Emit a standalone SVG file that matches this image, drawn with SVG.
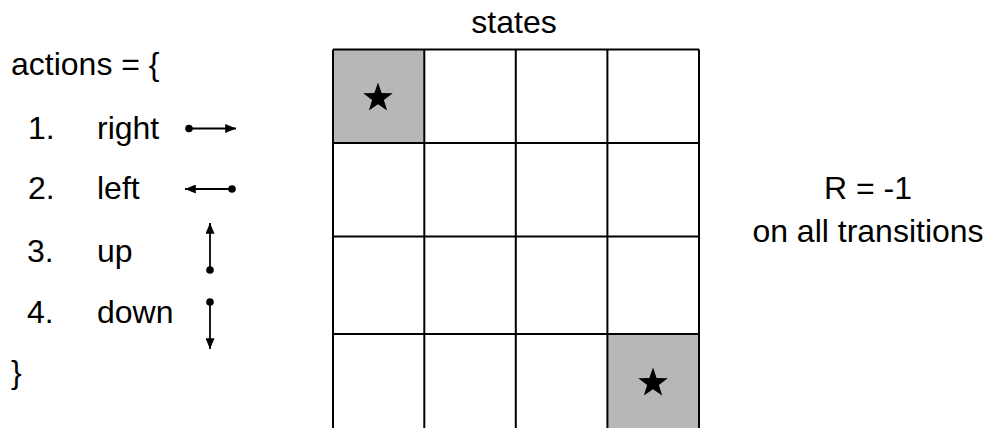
<svg xmlns="http://www.w3.org/2000/svg" width="997" height="428" viewBox="0 0 997 428">
<style>
text{font-family:"Liberation Sans",Arial,sans-serif;font-size:32px;fill:#000}
.grid{stroke:#000;stroke-width:2;fill:none}
.cell{fill:#b7b7b7}
.arr{stroke:#000;stroke-width:1.8;fill:none}
.dot{fill:#000}
.star{fill:#000}
</style>
<defs>
<marker id="ah" viewBox="0 0 12 10" refX="12" refY="5" markerWidth="12" markerHeight="9" markerUnits="userSpaceOnUse" orient="auto">
<path d="M0,0 L12,5 L0,10 Z" fill="#000"/>
</marker>
</defs>
<rect width="997" height="428" fill="#fff"/>
<g id="title"><text x="514" y="33" text-anchor="middle">states</text></g>
<g id="actions">
<text x="11" y="75">actions = {</text>
<text x="28" y="139">1.</text><text x="97" y="139">right</text>
<text x="28" y="199">2.</text><text x="97" y="199">left</text>
<text x="27" y="262">3.</text><text x="97" y="262">up</text>
<text x="27" y="323">4.</text><text x="97" y="323">down</text>
<text x="11" y="383">}</text>
</g>
<g id="connectors">
<line class="arr" x1="189" y1="128.5" x2="236" y2="128.5" marker-end="url(#ah)"/>
<circle class="dot" cx="189" cy="128.5" r="3.8"/>
<line class="arr" x1="232" y1="189" x2="185" y2="189" marker-end="url(#ah)"/>
<circle class="dot" cx="232" cy="189" r="3.8"/>
<line class="arr" x1="210" y1="270" x2="210" y2="223" marker-end="url(#ah)"/>
<circle class="dot" cx="210" cy="270" r="3.8"/>
<line class="arr" x1="210" y1="302" x2="210" y2="349" marker-end="url(#ah)"/>
<circle class="dot" cx="210" cy="302" r="3.8"/>
</g>
<g id="grid">
<rect class="cell" x="333" y="49.5" width="91" height="93.5"/>
<rect class="cell" x="607.5" y="334" width="91.5" height="100"/>
<path class="grid" d="M333,49.5 H699 M333,143 H699 M333,236.5 H699 M333,334 H699 M333,49.5 V430 M424.3,49.5 V430 M515.8,49.5 V430 M607.4,49.5 V430 M699,49.5 V430"/>
<polygon class="star" transform="translate(378,98)" points="0,-15.5 3.64,-5.02 14.74,-4.79 5.9,1.92 9.11,12.54 0,6.2 -9.11,12.54 -5.9,1.92 -14.74,-4.79 -3.64,-5.02"/>
<polygon class="star" transform="translate(653,383)" points="0,-15.5 3.64,-5.02 14.74,-4.79 5.9,1.92 9.11,12.54 0,6.2 -9.11,12.54 -5.9,1.92 -14.74,-4.79 -3.64,-5.02"/>
</g>
<g id="reward">
<text x="868" y="199" text-anchor="middle">R = -1</text>
<text x="868" y="242" text-anchor="middle">on all transitions</text>
</g>
</svg>
